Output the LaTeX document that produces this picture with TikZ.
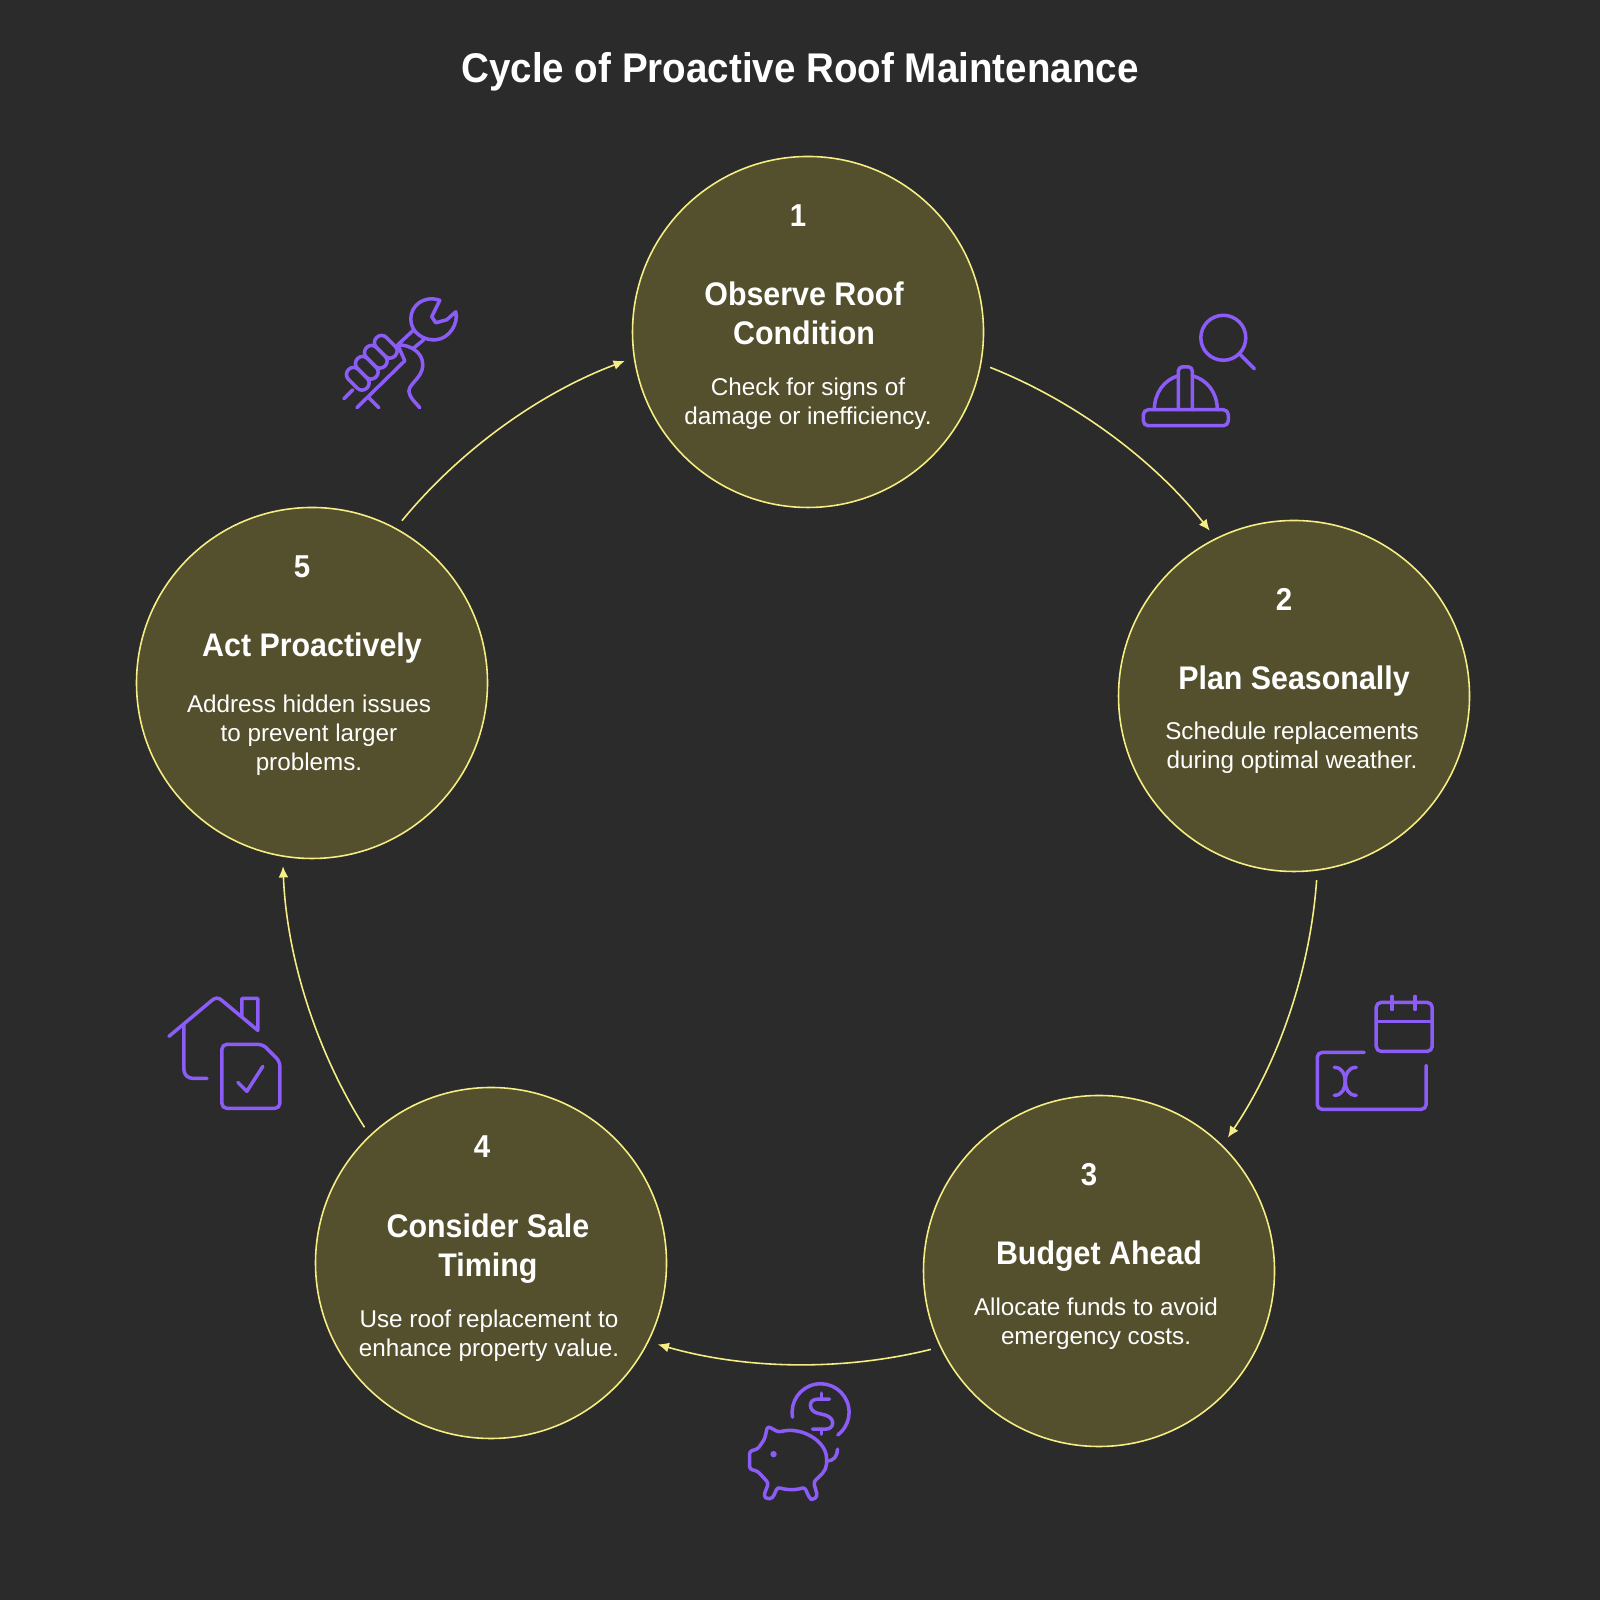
\documentclass[tikz,border=0pt]{standalone}
\usepackage{fontspec}
\setmainfont{Liberation Sans}[BoldFeatures={FakeStretch=0.93}]
\usepackage{tikz}
\usetikzlibrary{arrows.meta}
\usetikzlibrary{positioning}
\definecolor{bgdark}{HTML}{2B2B2B}
\definecolor{ringfill}{HTML}{544F2C}
\definecolor{ringline}{HTML}{F5EE84}
\definecolor{iconline}{HTML}{8B5CF6}
\tikzset{
  stage/.style={draw=ringline, fill=ringfill, line width=0.45pt, circle, minimum size=3.51cm, outer sep=0.1cm},
  flow/.style={draw=ringline, line width=0.45pt, -{Latex[length=3.2pt,width=2.8pt]}, bend left=15, looseness=0.85},
  heading/.style={text=white, align=center, font=\fontsize{9.3pt}{11.1pt}\selectfont\bfseries},
  stagenum/.style={text=white, font=\fontsize{9pt}{11pt}\selectfont\bfseries},
  desc/.style={text=white, align=center, font=\fontsize{6.9pt}{8.25pt}\selectfont},
  icon/.style={draw=iconline, line width=1pt, line cap=round, line join=round},
  pixels/.style={x=0.01cm, y=-0.01cm, yshift=16cm}
}
\begin{document}
\begin{tikzpicture}
    \useasboundingbox (0, 0) rectangle (16, 16);
    \fill [bgdark] (0, 0) rectangle (16, 16);

    \node (title) [text=white, font=\fontsize{11.8pt}{13pt}\selectfont\bfseries] at (8.00, 15.28) {Cycle of Proactive Roof Maintenance};

    \node (1) [stage] at (8.08, 12.68) {};
    \node (2) [stage] at (12.94, 9.04) {};
    \node (3) [stage] at (10.99, 3.29) {};
    \node (4) [stage] at (4.91, 3.37) {};
    \node (5) [stage] at (3.12, 9.17) {};

    \node (num1) [stagenum] at (7.98, 13.84) {1};
    \node (head1) [heading] at (8.04, 12.87) {Observe Roof\\Condition};
    \node (desc1) [desc] at (8.08, 11.96) {Check for signs of\\damage or inefficiency.};

    \node (num2) [stagenum] at (12.84, 10.01) {2};
    \node (head2) [heading] at (12.94, 9.19) {Plan Seasonally};
    \node (desc2) [desc] at (12.92, 8.52) {Schedule replacements\\during optimal weather.};

    \node (num3) [stagenum] at (10.89, 4.25) {3};
    \node (head3) [heading] at (10.99, 3.44) {Budget Ahead};
    \node (desc3) [desc] at (10.96, 2.76) {Allocate funds to avoid\\emergency costs.};

    \node (num4) [stagenum] at (4.82, 4.53) {4};
    \node (head4) [heading] at (4.88, 3.51) {Consider Sale\\Timing};
    \node (desc4) [desc] at (4.89, 2.64) {Use roof replacement to\\enhance property value.};

    \node (num5) [stagenum] at (3.02, 10.33) {5};
    \node (head5) [heading] at (3.12, 9.52) {Act Proactively};
    \node (desc5) [desc] at (3.09, 8.65) {Address hidden issues\\to prevent larger\\problems.};

    \draw [flow] (1.-11) to (2.117);
    \draw [flow] (2.-83) to (3.46);
    \draw [flow] (3.205) to (4.-26);
    \draw [flow] (4.133) to (5.261);
    \draw [flow] (5.61) to (1.189);

    \begin{scope}[pixels, icon]
        % wrench
        \draw (440,300.5) .. controls (424,295) and (411,306) .. (411,319) .. controls (411,333) and (424,341) .. (436,340) .. controls (450,339) and (459,323) .. (456,312) -- (447,320) -- (436,323) -- (432,317) -- cycle;
        \draw (413,331) -- (398,345);
        \draw (424,340) -- (413,349);
        \foreach \cx/\cy in {358/379, 367/368, 376/357, 386/347} {
            \draw [shift={(\cx,\cy)}, rotate=-45, rounded corners=1.9pt] (-13,-7) rectangle (13,7);
        }
        \draw (398,345) -- (405,361) -- (357,408);
        \draw (368,397) -- (379,408);
        \draw (353,390) -- (344,399);
        \draw (398,345) .. controls (410,345) and (423,352) .. (423,365) .. controls (423,380) and (405,385) .. (410,395) .. controls (412,400) and (417,404) .. (420,408);

        % helmet and lens
        \draw [rounded corners=1.4pt] (1144,410) rectangle (1229,426);
        \draw [rounded corners=1.2pt] (1179,410) -- (1179,367) -- (1193,367) -- (1193,410);
        \draw (1155,410) .. controls (1155,393) and (1165,380) .. (1179,376);
        \draw (1218,410) .. controls (1218,393) and (1208,380) .. (1193,376);
        \draw (1224,338) circle (22.5);
        \draw (1240,354) -- (1255,369);

        % calendar and card
        \draw [rounded corners=1.4pt] (1377,1003) rectangle (1433,1052);
        \draw (1377,1022) -- (1433,1022);
        \draw (1393,997) -- (1393,1010);
        \draw (1416,997) -- (1416,1010);
        \draw [rounded corners=1.4pt] (1365,1053) -- (1318,1053) -- (1318,1110) -- (1427,1110) -- (1427,1066);
        \draw (1335,1068) .. controls (1343,1068) and (1346,1075) .. (1346,1082) .. controls (1346,1089) and (1343,1096) .. (1335,1096);
        \draw (1357,1068) .. controls (1349,1068) and (1346,1075) .. (1346,1082) .. controls (1346,1089) and (1349,1096) .. (1357,1096);

        % piggy bank
        \draw (793,1418) arc (170:413:28.5);
        \draw (830,1400) -- (818,1400) .. controls (808,1400) and (809,1412) .. (818,1414) -- (826,1416) .. controls (836,1419) and (835,1430) .. (826,1430) -- (813,1430);
        \draw (822,1394) -- (822,1400);
        \draw (822,1430) -- (822,1435);
        \draw [rounded corners=0.8pt] (765,1440) -- (768,1427) -- (779,1433) .. controls (802,1427) and (827,1442) .. (827,1462) .. controls (827,1472) and (820,1477) .. (814,1483) -- (818,1497) -- (813,1501) -- (810,1499) -- (805,1488) .. controls (797,1491) and (787,1491) .. (778,1488) -- (773,1499) -- (768,1500) -- (764,1497) -- (769,1484) -- (758,1472) -- (750,1470) -- (750,1452) -- (758,1450) -- cycle;
        \fill [iconline] (774,1455) circle (3.2);
        \draw (827,1462) .. controls (834,1462) and (838,1457) .. (838,1450);

        % house and document
        \draw (169,1037) -- (212,1001) .. controls (215,998) and (219,998) .. (222,1001) -- (258,1031) -- (258,999) -- (242,999) -- (242,1017);
        \draw [rounded corners=2.5pt] (184,1025) -- (184,1079) -- (207,1079);
        \draw [rounded corners=1.4pt] (222,1109) -- (222,1045) -- (263,1045) -- (280,1062) -- (280,1109) -- cycle;
        \draw (238,1083) -- (247,1092) -- (263,1067);
    \end{scope}
\end{tikzpicture}
\end{document}
